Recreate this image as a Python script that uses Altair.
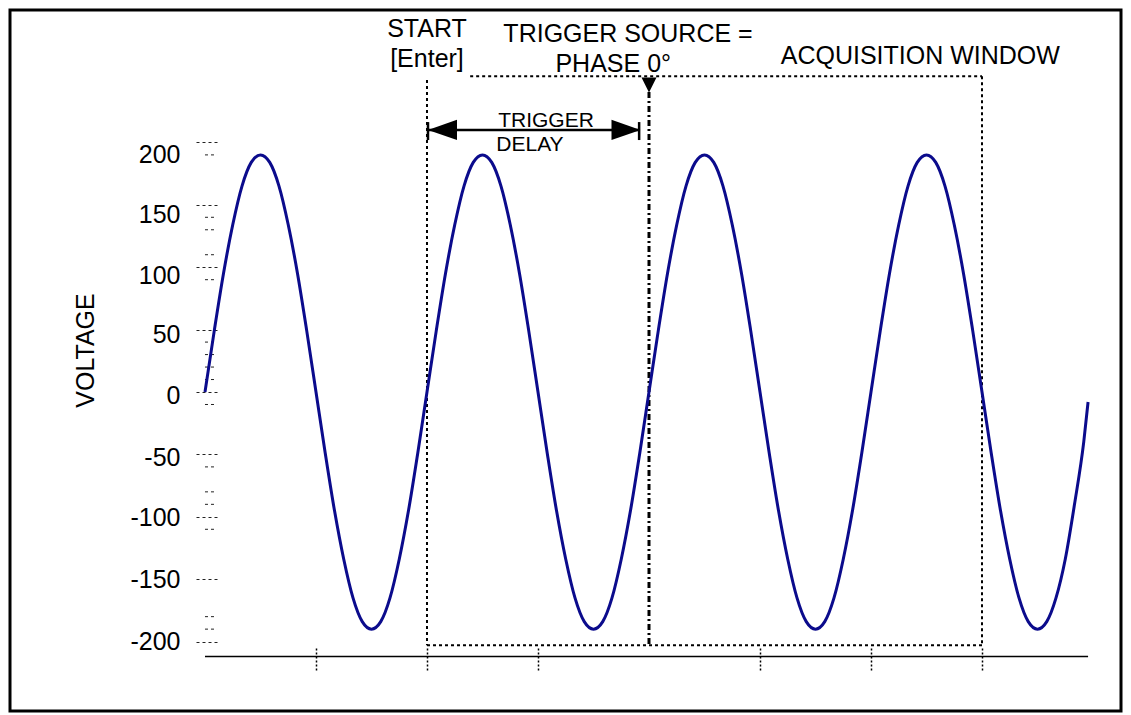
import altair as alt
import pandas as pd

# ---------------- data ----------------
phase = [0, 15, 30, 45, 60, 75, 90, 105, 120, 135, 150, 165,
         180, 195, 210, 225, 240, 255, 270, 285, 300, 315, 330, 345,
         360, 375, 390, 405, 420, 435, 450, 465, 480, 495, 510, 525,
         540, 555, 570, 585, 600, 615, 630, 645, 660, 675, 690, 705,
         720, 735, 750, 765, 780, 795, 810, 825, 840, 855, 870, 885,
         900, 915, 930, 945, 960, 975, 990, 1005, 1020, 1035, 1050, 1065,
         1080, 1095, 1110, 1125, 1140, 1155, 1170, 1185, 1200, 1215, 1230, 1245,
         1260, 1275, 1290, 1305, 1320, 1335, 1350, 1365, 1380, 1395, 1410, 1425,
         1432]
voltage = [0, 49, 95, 134, 165, 184, 190, 184, 165, 134, 95, 49,
           0, -49, -95, -134, -165, -184, -190, -184, -165, -134, -95, -49,
           0, 49, 95, 134, 165, 184, 190, 184, 165, 134, 95, 49,
           0, -49, -95, -134, -165, -184, -190, -184, -165, -134, -95, -49,
           0, 49, 95, 134, 165, 184, 190, 184, 165, 134, 95, 49,
           0, -49, -95, -134, -165, -184, -190, -184, -165, -134, -95, -49,
           0, 49, 95, 134, 165, 184, 190, 184, 165, 134, 95, 49,
           0, -49, -95, -134, -165, -184, -190, -184, -165, -134, -90, -40,
           -8]

y_major = [200, 150, 100, 50, 0, -50, -100, -150, -200]
y_minor = [190, 140, 130, 110, 90, 40, 30, 20, 10, -10, -60, -80, -90, -110, -180, -190]
x_ticks = [180, 360, 540, 900, 1080, 1260]

# annotation anchors (phase in degrees, voltage units)
start_phase = 360
trigger_phase = 720
window_end_phase = 1260
delay_end_phase = 704
window_top = 253
window_bottom = -203
delay_level = 210
axis_level = -212
minor_from, minor_to = 0, 19.5

head_text = ["START", "[Enter]", "TRIGGER SOURCE =", "PHASE 0°", "ACQUISITION WINDOW"]
head_x = [360, 360, 686, 662, 1160]
head_y = [284.5, 260.4, 280.4, 256.4, 262.8]

delay_text = ["TRIGGER", "DELAY"]
delay_x = [553, 527]
delay_y = [212.3, 193.1]

X_DOM = [-316.2, 1485.4]
Y_DOM = [-255.6, 306.1]

FONT = "Liberation Sans"

xs = alt.Scale(domain=X_DOM, nice=False, zero=False)
ys = alt.Scale(domain=Y_DOM, nice=False, zero=False)

curve_df = pd.DataFrame({"phase": phase, "voltage": voltage})

y_axis = alt.Axis(
    values=y_major,
    orient="left",
    offset=-207,
    domain=False,
    grid=False,
    tickColor="#222222",
    tickWidth=1,
    tickDash=[3, 3],
    tickSize=24,
    labelExpr="'' + datum.value",
    labelOverlap=False,
    labelPadding=13,
    labelFont=FONT,
    labelFontSize=25,
    labelColor="black",
    labelOffset={"condition": [
        {"test": "datum.value == 200", "value": 12},
        {"test": "datum.value == 150", "value": 10},
        {"test": "datum.value == 100", "value": 8},
        {"test": "datum.value == 50", "value": 5},
        {"test": "datum.value == 0 || datum.value == -50", "value": 3},
        {"test": "datum.value == -100", "value": 1}], "value": 0},
    title="VOLTAGE",
    titleFont=FONT,
    titleFontSize=25,
    titleFontWeight="normal",
    titleColor="black",
    titleAngle=270,
    titleAlign="center",
    titleBaseline="middle",
    titleX=-132,
    titleY=340,
)

x_axis = alt.Axis(
    values=x_ticks,
    orient="bottom",
    offset=-63,
    domain=False,
    grid=False,
    labels=False,
    tickSize=23,
    tickDash=[2, 2],
    tickWidth=1.5,
    tickColor="black",
    title=None,
)

curve = alt.Chart(curve_df).mark_line(
    color="#0b0b8c", strokeWidth=3, interpolate="monotone"
).encode(
    x=alt.X("phase:Q", scale=xs, axis=x_axis),
    y=alt.Y("voltage:Q", scale=ys, axis=y_axis),
)

# minor y ticks
minor_df = pd.DataFrame({"v": y_minor, "x": minor_from, "x2": minor_to})
minor = alt.Chart(minor_df).mark_rule(
    color="#222222", strokeWidth=1, strokeDash=[3, 3]
).encode(
    x=alt.X("x:Q", scale=xs), x2="x2:Q",
    y=alt.Y("v:Q", scale=ys),
)

# dotted acquisition window / start line
seg_df = pd.DataFrame({
    "x": [start_phase, 430, window_end_phase, start_phase],
    "x2": [start_phase, window_end_phase, window_end_phase, window_end_phase],
    "y": [250, window_top, window_top, window_bottom],
    "y2": [window_bottom, window_top, window_bottom, window_bottom],
})
dotted = alt.Chart(seg_df).mark_rule(
    color="black", strokeWidth=2, strokeDash=[3, 3]
).encode(
    x=alt.X("x:Q", scale=xs), x2="x2:Q",
    y=alt.Y("y:Q", scale=ys), y2="y2:Q",
)

trig_df = pd.DataFrame({"x": [trigger_phase], "y": [240.4], "y2": [window_bottom]})
trigger_line = alt.Chart(trig_df).mark_rule(
    color="black", strokeWidth=3, strokeDash=[6, 3, 2, 3]
).encode(
    x=alt.X("x:Q", scale=xs),
    y=alt.Y("y:Q", scale=ys), y2="y2:Q",
)

tri_df = pd.DataFrame({"x": [trigger_phase], "y": [246]})
trigger_head = alt.Chart(tri_df).mark_point(
    shape="M-1,-1L1,-1L0,1Z", size=225, filled=True, color="black", opacity=1
).encode(
    x=alt.X("x:Q", scale=xs),
    y=alt.Y("y:Q", scale=ys),
)

# trigger delay arrow
arrow_df = pd.DataFrame({
    "x": [361.6, 361.6, delay_end_phase],
    "x2": [delay_end_phase, 361.6, delay_end_phase],
    "y": [delay_level, 216.3, 216.3],
    "y2": [delay_level, 201.9, 201.9],
})
arrow_lines = alt.Chart(arrow_df).mark_rule(color="black", strokeWidth=2.5).encode(
    x=alt.X("x:Q", scale=xs), x2="x2:Q",
    y=alt.Y("y:Q", scale=ys), y2="y2:Q",
)
left_head = alt.Chart(pd.DataFrame({"x": [385.1], "y": [delay_level]})).mark_point(
    shape="M-1,0L1,-0.7L1,0.7Z", size=841, filled=True, color="black", opacity=1
).encode(x=alt.X("x:Q", scale=xs), y=alt.Y("y:Q", scale=ys))
right_head = alt.Chart(pd.DataFrame({"x": [682.7], "y": [delay_level]})).mark_point(
    shape="M1,0L-1,-0.7L-1,0.7Z", size=841, filled=True, color="black", opacity=1
).encode(x=alt.X("x:Q", scale=xs), y=alt.Y("y:Q", scale=ys))

# x axis line
axis_df = pd.DataFrame({"x": [0], "x2": [1432], "y": [axis_level]})
axis_line = alt.Chart(axis_df).mark_rule(color="black", strokeWidth=1.5).encode(
    x=alt.X("x:Q", scale=xs), x2="x2:Q",
    y=alt.Y("y:Q", scale=ys),
)

head_df = pd.DataFrame({"t": head_text, "x": head_x, "y": head_y})
heads = alt.Chart(head_df).mark_text(
    font=FONT, fontSize=25, color="black", align="center", baseline="alphabetic"
).encode(
    x=alt.X("x:Q", scale=xs),
    y=alt.Y("y:Q", scale=ys),
    text="t:N",
)

delay_df = pd.DataFrame({"t": delay_text, "x": delay_x, "y": delay_y})
delay_labels = alt.Chart(delay_df).mark_text(
    font=FONT, fontSize=21, color="black", align="center", baseline="alphabetic"
).encode(
    x=alt.X("x:Q", scale=xs),
    y=alt.Y("y:Q", scale=ys),
    text="t:N",
)

chart = alt.layer(
    minor, dotted, trigger_line, trigger_head, arrow_lines, left_head, right_head,
    axis_line, heads, delay_labels, curve
).properties(
    width=1111,
    height=701,
    autosize=alt.AutoSizeParams(type="none"),
    padding={"left": 2, "top": 2, "right": 2, "bottom": 2},
    background="white",
).configure_view(
    stroke="black", strokeWidth=3
)

chart.save("out.html", embed_options={"renderer": "svg", "actions": False})
